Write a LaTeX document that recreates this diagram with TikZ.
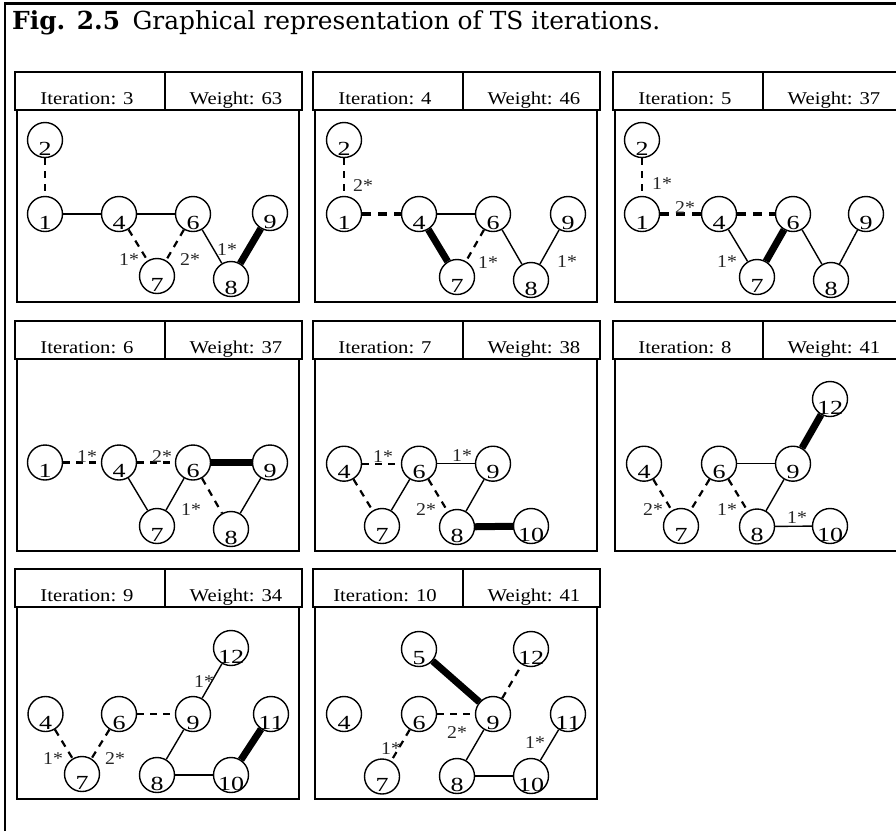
\documentclass[tikz,border=0pt]{standalone}
\usepackage{graphicx}
\usepackage{fontspec}
\setmainfont{Liberation Serif}
\newfontfamily\titlefont{DejaVu Serif}
\tikzset{
  box/.style={line width=1.6},
  circ/.style={circle, draw, line width=1.4, minimum size=35, inner sep=0},
  dig/.style={font=\fontsize{20}{20}\selectfont, inner sep=0},
  lbl/.style={font=\fontsize{18}{18}\selectfont, inner sep=0, text=black!85},
  hd/.style={font=\fontsize{18}{18}\selectfont, inner sep=0, anchor=base},
  sol/.style={line width=1.4},
  dsh/.style={line width=2.2, dash pattern=on 7 off 6},
  tdsh/.style={line width=3.5, dash pattern=on 9 off 7},
  bld/.style={line width=7},
}
\newcommand\nd[3]{\node[circ] (#1) at (#2) {};
  \node[dig] (#1t) at ([yshift=-8.7pt]#1.center) {\scalebox{1.3}[1]{#3}};}
\newcommand\ed[3]{\draw[#1] (#2) -- (#3);}
\newcommand\lb[3]{\node[lbl] (#1) at (#2) {\scalebox{1.1}[1]{#3}};}
\newcommand\panelhead[2]{%
  \draw[box] (0,0) rectangle (287,38);
  \draw[box] (150,0) -- (150,38);
  \draw[box] (2,38) rectangle (284,230);
  \node[hd] (it) at (72,32) {\scalebox{1.15}[1]{Iteration: #1}};
  \node[hd] (wt) at (221,32) {\scalebox{1.15}[1]{Weight: #2}};}
\begin{document}
\begin{tikzpicture}[x=1pt,y=-1pt]
\useasboundingbox (0,0) rectangle (896,831);
\clip (0,0) rectangle (896,831);
\fill[white] (0,0) rectangle (896,831);
\draw[line width=2.3] (5,831) -- (5,3.5) -- (896,3.5);
\node[anchor=base west, inner sep=0] (title) at (12,29)
  {\resizebox{648pt}{!}{\titlefont\textbf{Fig. 2.5}\enspace Graphical representation of TS iterations.}};

% Panel 1
\begin{scope}[shift={(15,72)}, name prefix=p1-]
\panelhead{3}{63}
\nd{n2}{30,68}{2} \nd{n1}{30,142}{1} \nd{n4}{104,142}{4} \nd{n6}{178,142}{6}
\nd{n9}{255,141}{9} \nd{n7}{142,204}{7} \nd{n8}{216,207}{8}
\ed{dsh}{n2}{n1} \ed{sol}{n1}{n4} \ed{sol}{n4}{n6} \ed{dsh}{n4}{n7}
\ed{dsh}{n6}{n7} \ed{sol}{n6}{n8} \ed{bld}{n8}{n9}
\lb{l1}{114,188}{1*} \lb{l2}{175,188}{2*} \lb{l3}{212,178}{1*}
\end{scope}

% Panel 2
\begin{scope}[shift={(313,72)}, name prefix=p2-]
\panelhead{4}{46}
\nd{n2}{31,68}{2} \nd{n1}{31,142}{1} \nd{n4}{106,142}{4} \nd{n6}{180,142}{6}
\nd{n9}{255,142}{9} \nd{n7}{144,205}{7} \nd{n8}{218,208}{8}
\ed{dsh}{n2}{n1} \ed{tdsh}{n1}{n4} \ed{sol}{n4}{n6} \ed{bld}{n4}{n7}
\ed{dsh}{n6}{n7} \ed{sol}{n6}{n8} \ed{sol}{n8}{n9}
\lb{l1}{50,114}{2*} \lb{l2}{175,191}{1*} \lb{l3}{254,190}{1*}
\end{scope}

% Panel 3
\begin{scope}[shift={(613,72)}, name prefix=p3-]
\panelhead{5}{37}
\nd{n2}{29,68}{2} \nd{n1}{29,142}{1} \nd{n4}{106,142}{4} \nd{n6}{180,142}{6}
\nd{n9}{253,142}{9} \nd{n7}{144,205}{7} \nd{n8}{218,208}{8}
\ed{dsh}{n2}{n1} \ed{tdsh}{n1}{n4} \ed{tdsh}{n4}{n6} \ed{sol}{n4}{n7}
\ed{bld}{n6}{n7} \ed{sol}{n6}{n8} \ed{sol}{n8}{n9}
\lb{l1}{49,112}{1*} \lb{l2}{72,136}{2*} \lb{l3}{114,190}{1*}
\end{scope}

% Panel 4
\begin{scope}[shift={(15,321)}, name prefix=p4-]
\panelhead{6}{37}
\nd{n1}{30,141.5}{1} \nd{n4}{104,141.5}{4} \nd{n6}{178,141.5}{6}
\nd{n9}{255,141.5}{9} \nd{n7}{142,205}{7} \nd{n8}{216,208}{8}
\ed{dsh}{n1}{n4} \ed{dsh}{n4}{n6} \ed{bld}{n6}{n9} \ed{sol}{n4}{n7}
\ed{sol}{n6}{n7} \ed{dsh}{n6}{n8} \ed{sol}{n8}{n9}
\lb{l1}{72,136}{1*} \lb{l2}{147,136}{2*} \lb{l3}{176,189}{1*}
\end{scope}

% Panel 5
\begin{scope}[shift={(313,321)}, name prefix=p5-]
\panelhead{7}{38}
\nd{n4}{31,142.7}{4} \nd{n6}{106,142.7}{6} \nd{n9}{180,142.7}{9}
\nd{n7}{69,205}{7} \nd{n8}{144,206}{8} \nd{n10}{218,205}{10}
\ed{dsh}{n4}{n6} \ed{sol}{n6}{n9} \ed{dsh}{n4}{n7} \ed{sol}{n6}{n7}
\ed{dsh}{n6}{n8} \ed{sol}{n8}{n9} \ed{bld}{n8}{n10}
\lb{l1}{70,136}{1*} \lb{l2}{149,135}{1*} \lb{l3}{113,189}{2*}
\end{scope}

% Panel 6
\begin{scope}[shift={(613,321)}, name prefix=p6-]
\panelhead{8}{41}
\nd{n12}{217,78}{12} \nd{n4}{31,142.7}{4} \nd{n6}{106,142.7}{6} \nd{n9}{180,142.7}{9}
\nd{n7}{68,205}{7} \nd{n8}{144,205.5}{8} \nd{n10}{217,205}{10}
\ed{dsh}{n4}{n7} \ed{dsh}{n6}{n7} \ed{sol}{n6}{n9} \ed{dsh}{n6}{n8}
\ed{sol}{n8}{n9} \ed{bld}{n9}{n12} \ed{sol}{n8}{n10}
\lb{l1}{40,189}{2*} \lb{l2}{114,189}{1*} \lb{l3}{184,197}{1*}
\end{scope}

% Panel 7
\begin{scope}[shift={(15,569)}, name prefix=p7-]
\panelhead{9}{34}
\nd{n12}{216,79}{12} \nd{n4}{30.5,145}{4} \nd{n6}{104,145}{6} \nd{n9}{178,145}{9}
\nd{n11}{256,145}{11} \nd{n7}{67,205}{7} \nd{n8}{142,206}{8} \nd{n10}{216,206}{10}
\ed{dsh}{n4}{n7} \ed{dsh}{n6}{n7} \ed{dsh}{n6}{n9} \ed{sol}{n9}{n12}
\ed{sol}{n8}{n9} \ed{sol}{n8}{n10} \ed{bld}{n10}{n11}
\lb{l1}{38,190}{1*} \lb{l2}{100,190}{2*} \lb{l3}{189,113}{1*}
\end{scope}

% Panel 8
\begin{scope}[shift={(313,569)}, name prefix=p8-]
\panelhead{10}{41}
\nd{n5}{106,80}{5} \nd{n12}{218,80}{12} \nd{n4}{31,145}{4} \nd{n6}{106,145}{6}
\nd{n9}{180,145}{9} \nd{n11}{255,145}{11} \nd{n7}{69,207.5}{7}
\nd{n8}{144,207}{8} \nd{n10}{218,207}{10}
\ed{bld}{n5}{n9} \ed{dsh}{n9}{n12} \ed{dsh}{n6}{n9} \ed{dsh}{n6}{n7}
\ed{sol}{n8}{n9} \ed{sol}{n8}{n10} \ed{sol}{n10}{n11}
\lb{l1}{78,180}{1*} \lb{l2}{144,164}{2*} \lb{l3}{222,174}{1*}
\end{scope}
\end{tikzpicture}
\end{document}
